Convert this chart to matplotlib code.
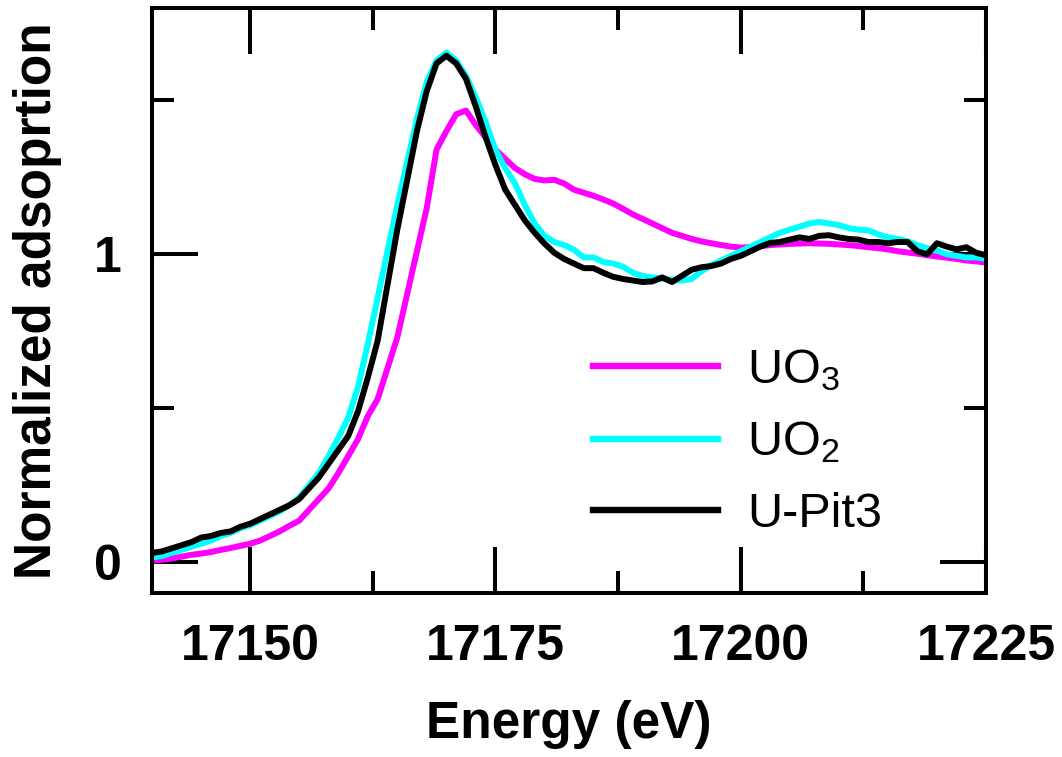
import numpy as np
import matplotlib
matplotlib.use("Agg")
import matplotlib.pyplot as plt
from matplotlib.ticker import MultipleLocator, FixedLocator

plt.rcParams['font.family'] = ['Liberation Sans', 'DejaVu Sans']
plt.rcParams['mathtext.fontset'] = 'custom'
plt.rcParams['mathtext.rm'] = 'Liberation Sans'
plt.rcParams['mathtext.it'] = 'Liberation Sans'
plt.rcParams['mathtext.default'] = 'regular'

energy = list(range(17140, 17226))

uo3 = [0.005, 0.008, 0.012, 0.018, 0.024, 0.028, 0.033, 0.040, 0.046, 0.053,
       0.060, 0.070, 0.085, 0.100, 0.118, 0.135, 0.170, 0.205, 0.240, 0.290,
       0.345, 0.400, 0.475, 0.530, 0.630, 0.730, 0.870, 1.010, 1.150, 1.340,
       1.400, 1.455, 1.467, 1.420, 1.380, 1.340, 1.310, 1.280, 1.260, 1.245,
       1.240, 1.242, 1.230, 1.210, 1.200, 1.190, 1.178, 1.165, 1.148, 1.130,
       1.115, 1.100, 1.085, 1.070, 1.060, 1.050, 1.042, 1.036, 1.030, 1.025,
       1.022, 1.023, 1.026, 1.030, 1.032, 1.034, 1.035, 1.036, 1.035, 1.034,
       1.032, 1.030, 1.027, 1.023, 1.020, 1.016, 1.010, 1.006, 1.002, 0.997,
       0.993, 0.989, 0.985, 0.980, 0.977, 0.973]

uo2 = [0.015, 0.020, 0.030, 0.040, 0.050, 0.060, 0.070, 0.085, 0.095, 0.110,
       0.120, 0.135, 0.150, 0.165, 0.185, 0.210, 0.250, 0.290, 0.345, 0.405,
       0.470, 0.570, 0.710, 0.860, 1.010, 1.160, 1.300, 1.440, 1.560, 1.630,
       1.655, 1.630, 1.580, 1.510, 1.430, 1.340, 1.280, 1.230, 1.160, 1.100,
       1.060, 1.040, 1.030, 1.015, 0.990, 0.990, 0.975, 0.970, 0.960, 0.940,
       0.930, 0.925, 0.920, 0.918, 0.915, 0.920, 0.945, 0.965, 0.980, 0.995,
       1.010, 1.025, 1.040, 1.055, 1.070, 1.080, 1.090, 1.100, 1.105, 1.100,
       1.095, 1.085, 1.080, 1.078, 1.065, 1.055, 1.050, 1.043, 1.030, 1.020,
       1.012, 1.000, 0.995, 0.990, 0.990, 0.985]

upit3 = [0.030, 0.035, 0.045, 0.055, 0.065, 0.080, 0.085, 0.095, 0.100, 0.115,
         0.125, 0.140, 0.155, 0.170, 0.185, 0.205, 0.240, 0.275, 0.320, 0.365,
         0.410, 0.490, 0.600, 0.720, 0.900, 1.080, 1.240, 1.400, 1.530, 1.620,
         1.645, 1.620, 1.570, 1.480, 1.380, 1.290, 1.210, 1.160, 1.110, 1.070,
         1.035, 1.005, 0.985, 0.970, 0.955, 0.955, 0.940, 0.927, 0.920, 0.915,
         0.910, 0.912, 0.925, 0.910, 0.930, 0.950, 0.958, 0.962, 0.970, 0.985,
         0.995, 1.010, 1.025, 1.037, 1.040, 1.048, 1.055, 1.050, 1.060, 1.062,
         1.055, 1.050, 1.048, 1.040, 1.040, 1.036, 1.040, 1.040, 1.010, 1.000,
         1.036, 1.025, 1.016, 1.023, 1.005, 0.997]

labels = ['UO$_3$', 'UO$_2$', 'U-Pit3']
colors = ['#FF00FF', '#00FFFF', '#000000']
xticks = [17150, 17175, 17200, 17225]
yticks = [0, 1]

fig = plt.figure(figsize=(10.62, 7.57), dpi=100)
ax = fig.add_axes([152/1062, 1-593/757, (986-152)/1062, (593-8)/757])

for y, c, lab in zip([uo3, uo2, upit3], colors, labels):
    ax.plot(energy, y, color=c, lw=4.3, label=lab)

ax.set_xlim(17140, 17225)
ax.set_ylim(-0.1, 1.8)
ax.xaxis.set_major_locator(FixedLocator(xticks))
ax.xaxis.set_minor_locator(MultipleLocator(12.5))
ax.yaxis.set_major_locator(FixedLocator(yticks))
ax.yaxis.set_minor_locator(FixedLocator([0.5, 1.5]))

for s in ax.spines.values():
    s.set_linewidth(2.9)

ax.tick_params(which='both', direction='in', top=True, right=True, width=2.9)
ax.tick_params(which='major', length=33)
ax.tick_params(which='minor', length=16)
ax.tick_params(axis='x', which='major', pad=22, labelsize=36)
ax.tick_params(axis='y', which='major', pad=22, labelsize=36)
for t in ax.get_xticklabels() + ax.get_yticklabels():
    t.set_fontweight('bold')

ax.set_xlabel('Energy (eV)', fontsize=37, fontweight='bold', labelpad=22)
ax.set_ylabel('Normalized adsoprtion', fontsize=37, fontweight='bold', labelpad=23)

leg = ax.legend(loc='upper left', bbox_to_anchor=(0.529, 0.42), frameon=False,
                fontsize=35, handlelength=2.57, handletextpad=0.6,
                labelspacing=0.55, borderpad=0, borderaxespad=0)
for line in leg.get_lines():
    line.set_linewidth(4.6)

fig.savefig('out.png', dpi=100)
